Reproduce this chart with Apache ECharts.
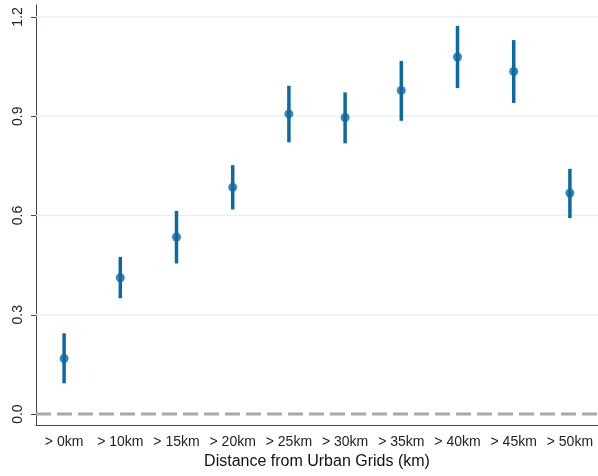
<!DOCTYPE html>
<html>
<head>
<meta charset="utf-8">
<script src="https://cdn.jsdelivr.net/npm/echarts@6/dist/echarts.min.js"></script>
<style>
  html, body { margin: 0; padding: 0; background: #fff; }
  #chart { width: 598px; height: 476px; }
</style>
</head>
<body>
<div id="chart"></div>
<script>
var categories = ['> 0km', '> 10km', '> 15km', '> 20km', '> 25km', '> 30km', '> 35km', '> 40km', '> 45km', '> 50km']
var estimates = [0.168, 0.412, 0.535, 0.685, 0.907, 0.896, 0.978, 1.079, 1.035, 0.668]
var upper = [0.244, 0.475, 0.614, 0.752, 0.992, 0.972, 1.067, 1.173, 1.130, 0.741]
var lower = [0.093, 0.350, 0.455, 0.618, 0.821, 0.818, 0.886, 0.985, 0.940, 0.592]
var yTicks = [0, 0.3, 0.6, 0.9, 1.2]

var blue = '#0b6aa3'
var font = 'Liberation Sans, Arial, sans-serif'

var chart = echarts.init(document.getElementById('chart'))

var bars = categories.map(function (c, i) {
  return [i, lower[i], upper[i]]
})

// horizontal reference lines across the plot (grid lines + dashed zero)
function hline (params, api) {
  var cs = params.coordSys
  var v = api.value(1)
  var y = api.coord([0, v])[1]
  return {
    type: 'line',
    shape: { x1: cs.x, y1: y, x2: cs.x + cs.width, y2: y },
    style: v === 0
      ? { stroke: '#a9a9a9', lineWidth: 3, lineDash: [15, 6] }
      : { stroke: '#e8f0f2', lineWidth: 1.5 }
  }
}

chart.setOption({
  animation: false,
  grid: { left: 36, top: 5, width: 566, bottom: 51, containLabel: false },
  xAxis: {
    type: 'category',
    data: categories,
    boundaryGap: true,
    name: 'Distance from Urban Grids (km)',
    nameLocation: 'middle',
    nameGap: 29,
    nameTextStyle: { fontFamily: font, fontSize: 16, color: '#111' },
    axisLine: { onZero: false, lineStyle: { color: '#444', width: 1 } },
    axisTick: { alignWithLabel: true, length: 5, lineStyle: { color: '#444' } },
    axisLabel: { fontFamily: font, fontSize: 14, color: '#222', margin: 10, interval: 0 },
    splitLine: { show: false }
  },
  yAxis: {
    type: 'value',
    min: -0.033,
    max: 1.236,
    axisLine: { show: true, lineStyle: { color: '#444', width: 1 } },
    axisTick: { show: true, length: 5, customValues: yTicks, lineStyle: { color: '#444' } },
    axisLabel: {
      customValues: yTicks,
      rotate: 90,
      fontFamily: font,
      fontSize: 14,
      color: '#222',
      margin: 11,
      formatter: function (v) { return v.toFixed(1) }
    },
    splitLine: { show: false }
  },
  series: [
    {
      type: 'custom',
      data: yTicks.map(function (v) { return [0, v] }),
      z: 1,
      silent: true,
      renderItem: hline
    },
    {
      type: 'custom',
      data: bars,
      z: 3,
      renderItem: function (params, api) {
        var a = api.coord([api.value(0), api.value(1)])
        var b = api.coord([api.value(0), api.value(2)])
        return {
          type: 'line',
          shape: { x1: a[0], y1: a[1], x2: b[0], y2: b[1] },
          style: { stroke: blue, lineWidth: 3.5 }
        }
      }
    },
    {
      type: 'scatter',
      data: estimates,
      z: 4,
      symbol: 'circle',
      symbolSize: 9,
      itemStyle: { color: blue }
    }
  ]
})
</script>
</body>
</html>
